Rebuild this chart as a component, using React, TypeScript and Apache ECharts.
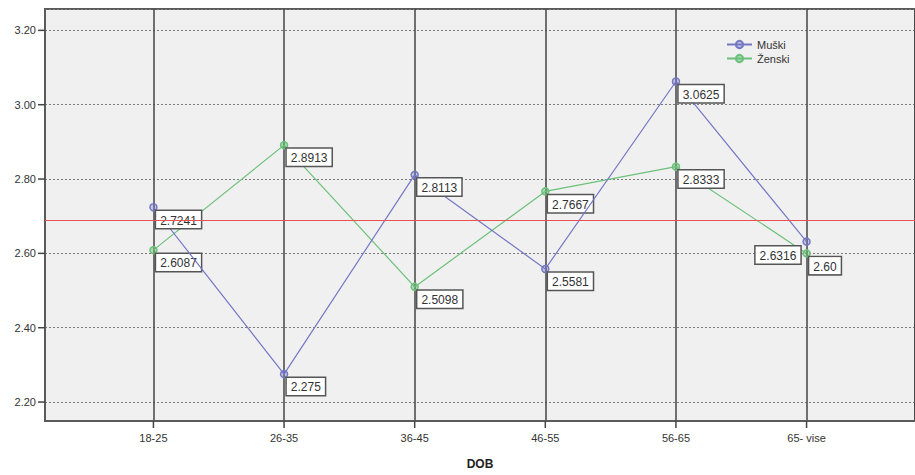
import React, { useEffect, useRef } from "react";
import * as echarts from "echarts";

const categories = ["18-25", "26-35", "36-45", "46-55", "56-65", "65- vise"];
const muski = [2.7241, 2.275, 2.8113, 2.5581, 3.0625, 2.6316];
const zenski = [2.6087, 2.8913, 2.5098, 2.7667, 2.8333, 2.6];
const muskiLabels = ["2.7241", "2.275", "2.8113", "2.5581", "3.0625", "2.6316"];
const zenskiLabels = ["2.6087", "2.8913", "2.5098", "2.7667", "2.8333", "2.60"];
const yTicks = [2.2, 2.4, 2.6, 2.8, 3.0, 3.2];
const xTicks = [0, 1, 2, 3, 4, 5];
const referenceMean = 2.693;

const Y_MIN = 2.149;
const Y_MAX = 3.2575;
const X_MIN = -0.83;
const X_MAX = 5.83;

const BLUE = "#7478c4";
const GREEN = "#6cc17a";

const labelBase = {
  show: true,
  position: [7, 8],
  align: "left",
  verticalAlign: "top",
  backgroundColor: "#ffffff",
  borderColor: "#555555",
  borderWidth: 1.5,
  padding: [3, 4, 1, 4],
  fontSize: 12,
  lineHeight: 13,
  color: "#333333",
  fontFamily: "Liberation Sans, Arial, sans-serif",
};

function buildData(values: number[], labels: string[], leftIdx: number[]) {
  return values.map((v, i) => ({
    value: [xTicks[i], v],
    label: leftIdx.includes(i)
      ? { ...labelBase, formatter: labels[i], position: [-2, 9], align: "right" }
      : { ...labelBase, formatter: labels[i] },
  }));
}

function tickSeries(data: number[][], dx: number, dy: number) {
  return {
    type: "custom",
    silent: true,
    clip: false,
    z: 10,
    data,
    renderItem: (params: any, api: any) => {
      const p = api.coord([api.value(0), api.value(1)]);
      return {
        type: "rect",
        shape: {
          x: Math.min(p[0], p[0] + dx) - (dx === 0 ? 0.75 : 0),
          y: Math.min(p[1], p[1] + dy) - (dy === 0 ? 0.75 : 0),
          width: dx === 0 ? 1.5 : Math.abs(dx),
          height: dy === 0 ? 1.5 : Math.abs(dy),
        },
        style: { fill: "#444444" },
      };
    },
  };
}

export default function App() {
  const ref = useRef<HTMLDivElement>(null);
  useEffect(() => {
    if (!ref.current) return;
    const chart = echarts.init(ref.current, null, { renderer: "svg" });
    chart.setOption({
      animation: false,
      backgroundColor: "#ffffff",
      grid: {
        show: true,
        left: 45,
        top: 9,
        right: -6,
        bottom: 51,
        backgroundColor: "#f0f0f0",
        borderColor: "#5a5a5a",
        borderWidth: 2,
      },
      legend: {
        data: ["Muški", "Ženski"],
        orient: "vertical",
        left: 726,
        top: 39,
        itemWidth: 25,
        itemHeight: 9,
        itemGap: 3,
        padding: 0,
        textStyle: { fontSize: 11, color: "#333", fontFamily: "Liberation Sans, Arial, sans-serif" },
      },
      xAxis: {
        type: "value",
        min: X_MIN,
        max: X_MAX,
        axisLine: { show: true, onZero: false, lineStyle: { color: "#5a5a5a", width: 2 } },
        axisTick: { show: false },
        axisLabel: {
          customValues: xTicks,
          formatter: (v: number) => categories[Math.round(v)] ?? "",
          fontSize: 11,
          color: "#333",
          margin: 11,
          fontFamily: "Liberation Sans Narrow, Liberation Sans, Arial, sans-serif",
        },
        splitLine: { show: true, lineStyle: { color: "#444", width: 1.5, type: "solid" } },
        name: "DOB",
        nameLocation: "middle",
        nameGap: 37,
        nameTextStyle: { fontWeight: "bold", fontSize: 12, color: "#222", fontFamily: "Liberation Sans, Arial, sans-serif" },
      },
      yAxis: {
        type: "value",
        min: Y_MIN,
        max: Y_MAX,
        axisLine: { show: true, onZero: false, lineStyle: { color: "#5a5a5a", width: 2 } },
        axisTick: { show: false },
        axisLabel: {
          customValues: yTicks,
          formatter: (v: number) => v.toFixed(2),
          fontSize: 11,
          color: "#333",
          margin: 9,
          fontFamily: "Liberation Sans, Arial, sans-serif",
        },
        splitLine: { show: true, lineStyle: { color: "#7a7a7a", width: 1, type: [2, 2] } },
      },
      series: [
        {
          name: "Muški",
          type: "line",
          data: buildData(muski, muskiLabels, [5]),
          symbol: "circle",
          symbolSize: 7,
          itemStyle: { color: "rgba(116,120,196,0.35)", borderColor: BLUE, borderWidth: 1.5 },
          lineStyle: { color: BLUE, width: 1.2 },
          z: 3,
          markLine: {
            silent: true,
            symbol: "none",
            label: { show: false },
            lineStyle: { color: "#e8514f", width: 1, type: "solid" },
            data: [{ yAxis: referenceMean }],
          },
        },
        {
          name: "Ženski",
          type: "line",
          data: buildData(zenski, zenskiLabels, []),
          symbol: "circle",
          symbolSize: 7,
          itemStyle: { color: "rgba(108,193,122,0.5)", borderColor: GREEN, borderWidth: 1.5 },
          lineStyle: { color: GREEN, width: 1.2 },
          z: 2,
        },
        tickSeries(yTicks.map((v) => [X_MIN, v]), -7, 0),
        tickSeries(xTicks.map((v) => [v, Y_MIN]), 0, 7),
      ],
    });

    return () => chart.dispose();
  }, []);
  return (
    <div
      ref={ref}
      style={{ position: "fixed", left: 0, top: 0, width: 915, height: 475 }}
    />
  );
}
